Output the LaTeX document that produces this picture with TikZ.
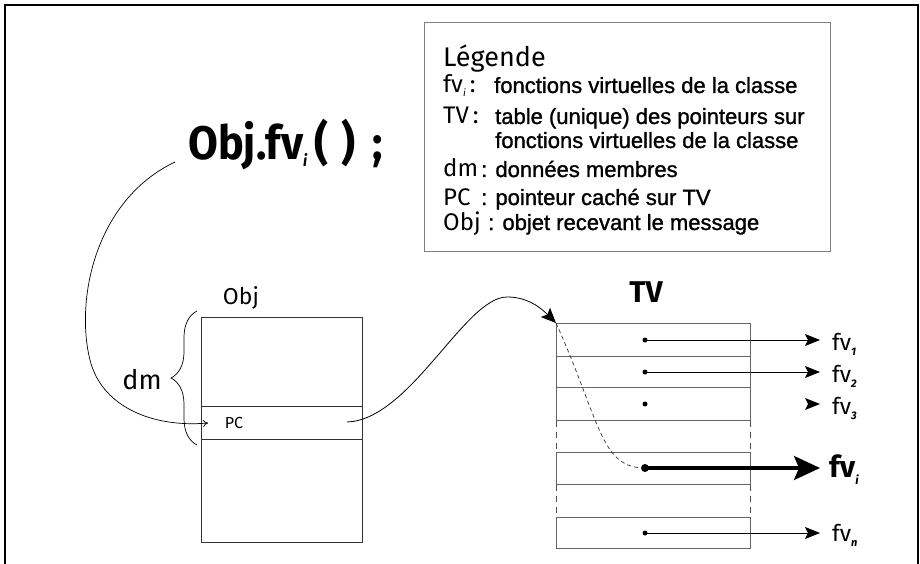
\documentclass[tikz,border=0pt]{standalone}
\usepackage{fontspec}
\setmainfont{Liberation Sans}
\newfontfamily\descfont{Liberation Sans}[FakeBold=1.2]
\newfontfamily\hw{Fira Sans}
\usetikzlibrary{arrows.meta,decorations.pathreplacing,calc}
\begin{document}
\begin{tikzpicture}[x=1pt,y=-1pt,
  desc/.style={anchor=base west, inner sep=0pt, font=\descfont\fontsize{22}{24}\selectfont},
  hwl/.style={anchor=base west, inner sep=0pt, font=\hw\fontsize{24}{24}\selectfont},
  cellbox/.style={draw=black!60, line width=0.8pt, anchor=north west, inner sep=0pt, minimum width=194pt, minimum height=#1},
  objcell/.style={draw=black!80, line width=0.9pt, anchor=north west, inner sep=0pt, minimum width=161pt, minimum height=#1},
  dotnode/.style={circle, fill=black, inner sep=0pt, minimum size=5pt},
  fvarrow/.style={-{Stealth[length=15pt,width=12pt,inset=3pt]}, line width=0.8pt},
  fvlab/.style={anchor=base west, inner sep=0pt, font=\hw\fontsize{23}{23}\selectfont},
  gap/.style={draw=black!70, line width=0.8pt, dash pattern=on 6pt off 5pt}
]
\useasboundingbox (0,0) rectangle (920,564);
% outer frame
\draw[line width=1.6pt] (5,575) -- (5,5) -- (918,5) -- (918,575);

% legend
\node[draw=black!50, line width=0.8pt, anchor=north west, minimum width=406pt, minimum height=229pt, inner sep=0pt] (legend) at (424,22) {};
\node[hwl, font=\hw\fontsize{27}{27}\selectfont] (lgtitle) at (443,67) {Légende};
\node[hwl] (lfv) at (443,93) {fv\raisebox{-4pt}{\fontsize{10}{10}\selectfont\itshape i}\,:};
\node[desc] (dfv) at (494,93) {fonctions virtuelles de la classe};
\node[hwl] (ltv) at (443,124) {TV\,:};
\node[desc] (dtv) at (495,124) {table (unique) des pointeurs sur};
\node[desc] (dtv2) at (495,148) {fonctions virtuelles de la classe};
\node[hwl] (ldm) at (443,177) {dm};
\node[desc] (ddm) at (481,177) {: données membres};
\node[hwl] (lpc) at (443,205) {PC};
\node[desc] (dpc) at (481,205) {: pointeur caché sur TV};
\node[hwl] (lobj) at (443,230) {Obj};
\node[desc] (dobj) at (488,230) {: objet recevant le message};

% message call
\node[anchor=base west, inner sep=0pt, font=\hw\bfseries\fontsize{47}{47}\selectfont] (call) at (188,160)
  {\scalebox{0.92}[1]{Obj.fv\raisebox{-7pt}{\fontsize{16}{16}\selectfont\itshape i}\hspace{8pt}(\hspace{14pt})\hspace{18pt};}};

% object
\node[font=\hw\fontsize{23}{23}\selectfont, inner sep=0pt] (objlab) at (241,298) {Obj};
\node[objcell=89pt] (otop) at (201,317) {};
\node[objcell=33pt] (pcrow) at (201,406) {};
\node[objcell=103pt] (obot) at (201,439) {};
\node[font=\hw\fontsize{16}{16}\selectfont, inner sep=0pt] (pc) at (234,423) {PC};
\coordinate (brtop) at (197,311);
\coordinate (brbot) at (197,445);
\draw[line width=0.7pt, decorate, decoration={brace, amplitude=26pt}] (brbot) -- (brtop);
\node[font=\hw\fontsize{27}{27}\selectfont, inner sep=0pt] (dm) at (142,380) {dm};

% curve from call to PC
\coordinate (callfoot) at (175,162);
\coordinate (pcin) at (208,423);
\draw[line width=0.7pt, -{To[length=5pt,width=7pt]}] (callfoot) .. controls (95,200) and (75,300) .. (90,360)
  .. controls (101,405) and (150,428) .. (pcin);

% TV table
\node[font=\hw\bfseries\fontsize{30}{30}\selectfont, inner sep=0pt] (tvt) at (646,292) {TV};
\node[cellbox=33pt] (r1) at (556,323) {};
\node[cellbox=31pt] (r2) at (556,356) {};
\node[cellbox=33pt] (r3) at (556,387) {};
\node[cellbox=32pt] (ri) at (556,452) {};
\node[cellbox=31pt] (rn) at (556,517) {};
\draw[gap] (r3.south west) -- (ri.north west);
\draw[gap] (r3.south east) -- (ri.north east);
\draw[gap] (ri.south west) -- (rn.north west);
\draw[gap] (ri.south east) -- (rn.north east);

\node[dotnode] (d1) at (645,340) {};
\node[dotnode] (d2) at (645,372) {};
\node[dotnode] (d3) at (645,404) {};
\node[dotnode, minimum size=8pt] (di) at (645,468) {};
\node[dotnode] (dn) at (645,533) {};

% curve from PC to TV
\coordinate (pcout) at (347,422);
\draw[line width=0.8pt, -{Stealth[length=15pt,width=13pt,inset=3pt]}] (pcout) .. controls (410,420) and (465,297) .. (507,297)
  .. controls (525,297) and (538,305) .. (r1.north west);

% dashed lookup curve
\draw[line width=0.7pt, dash pattern=on 4pt off 3pt, black!80] (r1.north west) .. controls (600,420) and (600,468) .. (di.center);

% arrows to functions
\coordinate (t1) at (820,340);
\coordinate (t2) at (820,372);
\coordinate (t3a) at (805,404);
\coordinate (t3) at (820,404);
\coordinate (ti) at (820,468);
\coordinate (tn) at (820,533);
\draw[fvarrow] (d1.center) -- (t1);
\draw[fvarrow] (d2.center) -- (t2);
\fill ($(t3a)+(0,-6)$) -- (t3) -- ($(t3a)+(0,6)$) -- ($(t3a)+(3,0)$) -- cycle;
\draw[line width=3.2pt, -{Stealth[length=26pt,width=24pt,inset=5pt]}] (di.center) -- (ti);
\draw[fvarrow] (dn.center) -- (tn);

\node[fvlab] (fv1) at (832,350) {fv\raisebox{-5pt}{\fontsize{11}{11}\selectfont\bfseries\itshape 1}};
\node[fvlab] (fv2) at (832,382) {fv\raisebox{-5pt}{\fontsize{11}{11}\selectfont\bfseries\itshape 2}};
\node[fvlab] (fv3) at (832,414) {fv\raisebox{-5pt}{\fontsize{11}{11}\selectfont\bfseries\itshape 3}};
\node[fvlab, font=\hw\bfseries\fontsize{30}{30}\selectfont] (fvi) at (829,477) {fv\raisebox{-7pt}{\fontsize{12}{12}\selectfont\bfseries\itshape i}};
\node[fvlab] (fvn) at (832,541) {fv\raisebox{-5pt}{\fontsize{11}{11}\selectfont\bfseries\itshape n}};
\end{tikzpicture}
\end{document}
